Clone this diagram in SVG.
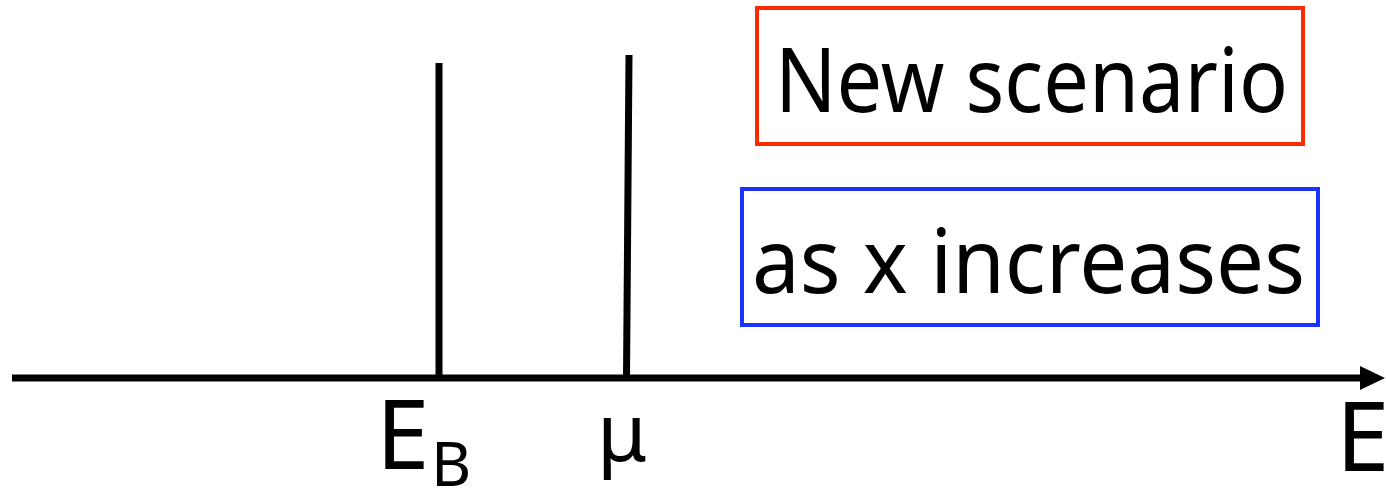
<svg xmlns="http://www.w3.org/2000/svg" width="1386" height="490" viewBox="0 0 1386 490">
<style>
.t{font-family:"Noto Sans","DejaVu Sans",sans-serif;fill:#000}
.ln{stroke:#000;stroke-width:7;fill:none}
</style>
<rect width="1386" height="490" fill="#fff"/>
<g id="connectors">
<line class="ln" x1="12" y1="378" x2="1362" y2="378"/>
<polygon points="1360,366 1385,378 1360,390" fill="#000"/>
<line class="ln" x1="439" y1="63" x2="439" y2="378"/>
<line class="ln" x1="629" y1="55" x2="626.5" y2="378"/>
</g>
<g id="box-new">
<rect x="757" y="8" width="546" height="136" fill="#fff" stroke="#ff2a00" stroke-width="4"/>
<text class="t" x="775" y="112" font-size="90" textLength="513" lengthAdjust="spacingAndGlyphs">New scenario</text>
</g>
<g id="box-x">
<rect x="742" y="189" width="576" height="136" fill="#fff" stroke="#1a33ff" stroke-width="4"/>
<text class="t" x="752" y="293" font-size="90" textLength="553" lengthAdjust="spacingAndGlyphs">as x increases</text>
</g>
<g id="label-EB">
<text class="t" x="376" y="469" font-size="96">E</text>
<text class="t" x="431" y="486" font-size="62">B</text>
</g>
<g id="label-mu">
<text class="t" x="597" y="461" font-size="80">μ</text>
</g>
<g id="label-E">
<text class="t" x="1336" y="471" font-size="96">E</text>
</g>
</svg>
